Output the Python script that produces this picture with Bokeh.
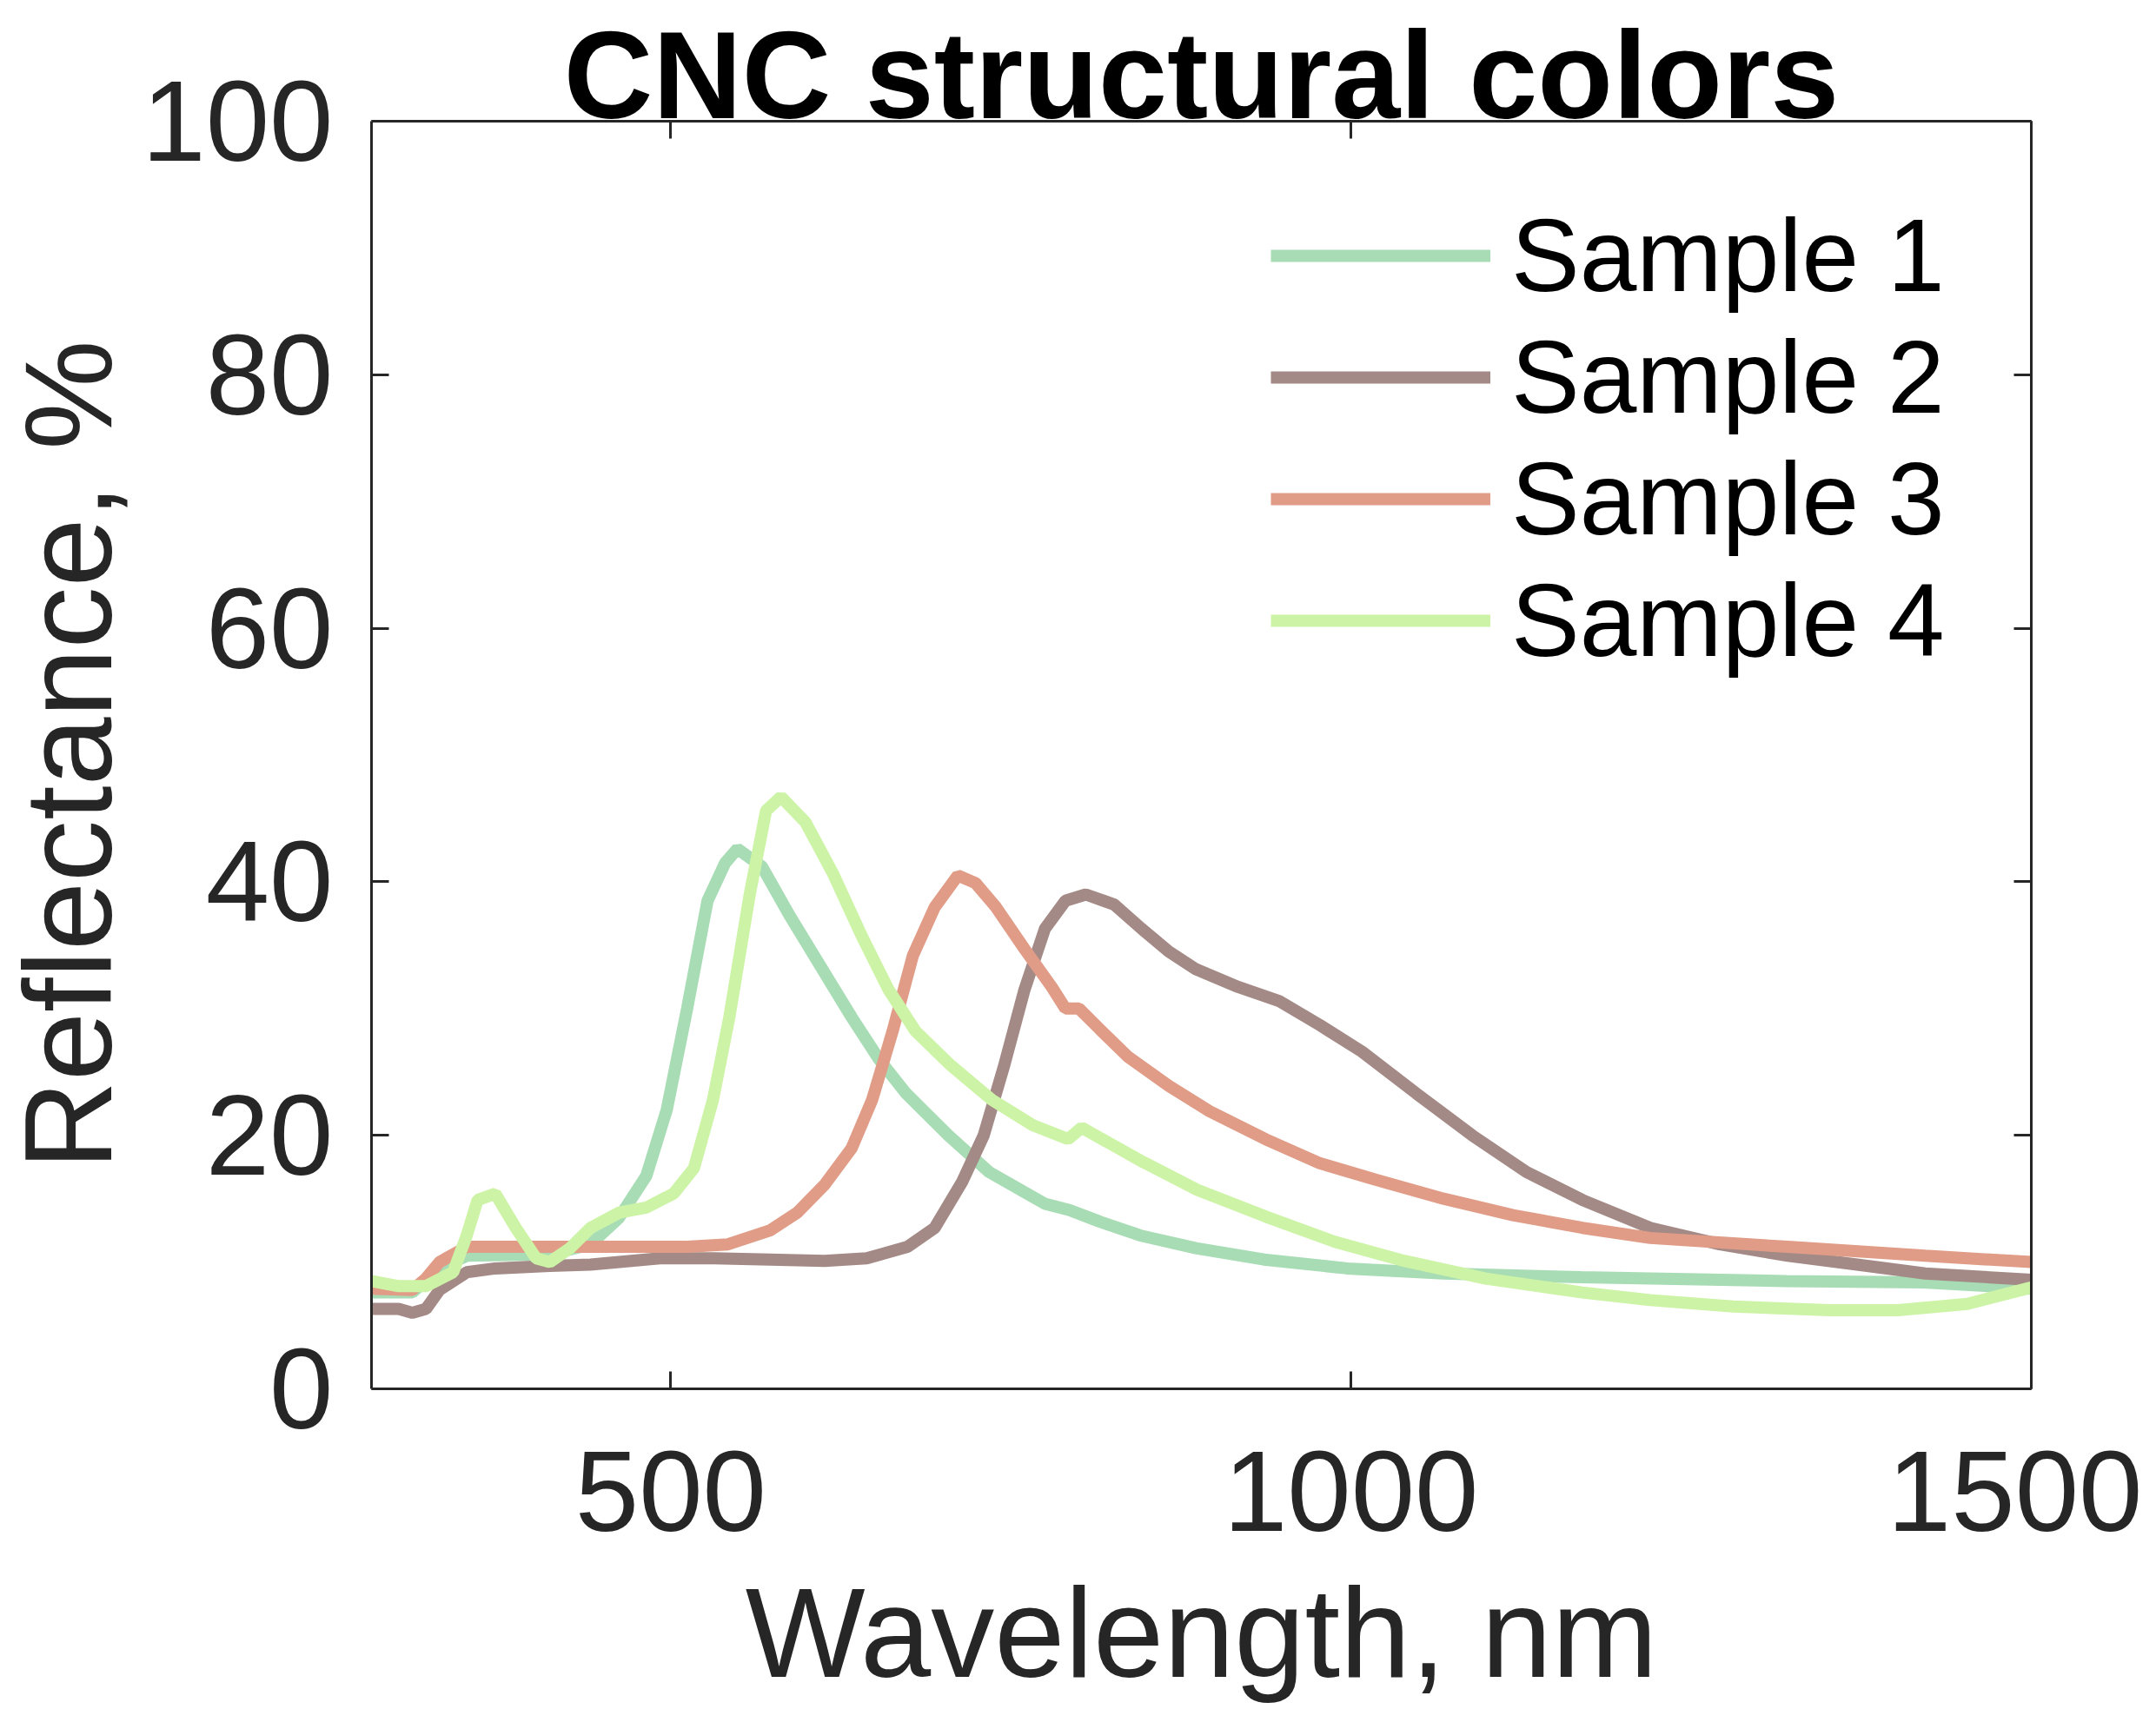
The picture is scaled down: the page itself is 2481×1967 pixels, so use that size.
from bokeh.plotting import figure
from bokeh.models import Range1d, LinearAxis, FixedTicker
from bokeh.embed import file_html
from bokeh.resources import INLINE

# ---------------- data ----------------
series_names = ["Sample 1", "Sample 2", "Sample 3", "Sample 4"]
series_colors = ["#a8dcb4", "#a48a86", "#e09c86", "#cdf4a6"]

wl_1 = [280, 310, 330, 350, 411, 441, 462, 482, 497, 512, 527, 540, 549, 567, 587,
        612, 633, 653, 673, 704, 734, 775, 793, 815, 845, 886, 936, 997, 1068, 1169,
        1320, 1421, 1500]
refl_1 = [7.6, 7.6, 9.5, 10.5, 10.6, 11.4, 13.5, 16.8, 22.0, 30.0, 38.5, 41.5, 42.6, 41.2, 37.4,
          33.0, 29.3, 26.0, 23.3, 20.0, 17.1, 14.6, 14.1, 13.2, 12.1, 11.1, 10.2, 9.5, 9.1, 8.8,
          8.5, 8.4, 7.9]

wl_2 = [280, 300, 310, 320, 330, 350, 371, 411, 441, 492, 532, 573, 613, 644, 674,
        694, 714, 730, 745, 760, 775, 790, 805, 826, 846, 866, 886, 917, 947, 977,
        1008, 1048, 1089, 1129, 1170, 1220, 1271, 1321, 1372, 1422, 1500]
refl_2 = [6.3, 6.3, 6.0, 6.3, 7.8, 9.2, 9.5, 9.7, 9.8, 10.3, 10.3, 10.2, 10.1, 10.3, 11.2,
          12.7, 16.3, 20.0, 25.5, 31.5, 36.3, 38.5, 39.0, 38.2, 36.3, 34.5, 33.1, 31.7, 30.6, 28.7,
          26.6, 23.3, 20.0, 17.1, 14.9, 12.7, 11.4, 10.5, 9.8, 9.1, 8.6]

wl_3 = [280, 310, 320, 330, 350, 411, 462, 512, 542, 573, 593, 613, 633, 648, 663,
        678, 694, 711, 724, 739, 760, 780, 790, 800, 815, 836, 866, 896, 937, 977,
        1018, 1068, 1119, 1170, 1220, 1321, 1422, 1500]
refl_3 = [7.9, 7.8, 8.7, 10.0, 11.2, 11.2, 11.2, 11.2, 11.4, 12.5, 13.9, 16.1, 19.0, 22.8, 28.2,
          34.2, 38.0, 40.5, 39.9, 38.0, 34.7, 31.7, 30.0, 30.0, 28.4, 26.2, 23.9, 21.9, 19.7, 17.8,
          16.5, 15.0, 13.7, 12.7, 11.9, 11.2, 10.5, 10.0]

wl_4 = [280, 300, 320, 340, 350, 358, 371, 386, 401, 411, 426, 441, 462, 482, 502,
        517, 531, 543, 558, 570, 581, 599, 619, 640, 660, 680, 706, 736, 766, 792,
        802, 817, 847, 887, 937, 988, 1039, 1099, 1170, 1220, 1281, 1352, 1402, 1453, 1500]
refl_4 = [8.5, 8.1, 8.1, 9.2, 12.1, 14.9, 15.4, 12.7, 10.3, 10.0, 11.1, 12.7, 13.9, 14.3, 15.4,
          17.4, 22.8, 29.3, 39.0, 45.6, 46.7, 44.7, 40.7, 35.8, 31.5, 28.2, 25.5, 22.8, 20.8, 19.7,
          20.6, 19.7, 17.9, 15.7, 13.6, 11.6, 10.1, 8.7, 7.6, 7.0, 6.5, 6.2, 6.2, 6.7, 8.0]

x_ticks = [500, 1000, 1500]
y_ticks = [0, 20, 40, 60, 80, 100]
title_text = "CNC structural colors"
x_label = "Wavelength, nm"
y_label = "Reflectance, %"

all_wl = [wl_1, wl_2, wl_3, wl_4]
all_refl = [refl_1, refl_2, refl_3, refl_4]

# ---------------- figure ----------------
FONT = "Liberation Sans"
AX = "#262626"
DX, DY = 40, 40            # spare canvas room above / left of the visible page
W, H = 2465 + DX, 1967 + DY
ML, MR, MT, MB = 427 + DX, 128, 139 + DY, 369

p = figure(width=W, height=H, output_backend="svg", toolbar_location=None,
           x_range=Range1d(280, 1500), y_range=Range1d(0, 100),
           min_border_left=ML, min_border_right=MR, min_border_top=MT, min_border_bottom=MB,
           x_axis_location=None, y_axis_location=None, title=None,
           styles={"margin-left": f"-{DX}px", "margin-top": f"-{DY}px"})
p.xgrid.visible = False
p.ygrid.visible = False
p.outline_line_color = None
p.background_fill_color = "white"
p.border_fill_color = "white"


def style_axis(ax, ticks, show_labels):
    ax.ticker = FixedTicker(ticks=ticks)
    ax.axis_line_color = AX
    ax.axis_line_width = 3
    ax.major_tick_line_color = AX
    ax.major_tick_line_width = 3
    ax.major_tick_in = 20
    ax.major_tick_out = 0
    ax.minor_tick_line_color = None
    ax.major_label_text_font = FONT
    ax.major_label_text_color = AX
    ax.axis_label_text_font = FONT
    ax.axis_label_text_font_style = "normal"
    ax.axis_label_text_color = AX
    if show_labels:
        ax.major_label_text_font_size = "132px"
    else:
        ax.major_label_text_font_size = "0px"
        ax.major_label_text_alpha = 0
        ax.major_label_standoff = 0


xb = LinearAxis(axis_label=x_label)
style_axis(xb, x_ticks, True)
xb.major_label_standoff = 72
xb.axis_label_text_font_size = "146px"
xb.axis_label_standoff = 33
p.add_layout(xb, "below")

# top mirror axis carries the chart title as its (bold, black) label
xt = LinearAxis(axis_label=title_text)
style_axis(xt, x_ticks, False)
xt.axis_label_text_font_size = "142px"
xt.axis_label_text_font_style = "bold"
xt.axis_label_text_color = "black"
xt.axis_label_standoff = -26
p.add_layout(xt, "above")

yl = LinearAxis(axis_label=y_label)
style_axis(yl, y_ticks, True)
yl.major_label_standoff = 44
yl.axis_label_text_font_size = "142px"
yl.axis_label_standoff = 2
p.add_layout(yl, "left")

yr = LinearAxis()
style_axis(yr, y_ticks, False)
p.add_layout(yr, "right")

for wl, rf, name, col in zip(all_wl, all_refl, series_names, series_colors):
    p.line(wl, rf, line_color=col, line_width=14, legend_label=name)

leg = p.legend[0]
leg.location = (1035, 814)
leg.glyph_width = 253
leg.glyph_height = 140
leg.label_height = 140
leg.label_standoff = 24
leg.spacing = 0
leg.padding = 0
leg.margin = 0
leg.border_line_color = None
leg.background_fill_alpha = 0
leg.label_text_font = FONT
leg.label_text_font_size = "118px"
leg.label_text_color = "black"

open("out.html", "w").write(file_html(p, INLINE))
